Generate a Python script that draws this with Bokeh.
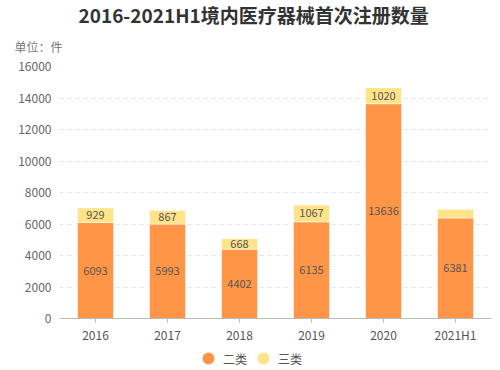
from bokeh.plotting import figure
from bokeh.layouts import column
from bokeh.models import (ColumnDataSource, LabelSet, Title, FixedTicker, Legend, LegendItem)
from bokeh.core.properties import value
from bokeh.embed import file_html
from bokeh.resources import INLINE

years = ["2016", "2017", "2018", "2019", "2020", "2021H1"]
class2 = [6093, 5993, 4402, 6135, 13636, 6381]
class3 = [929, 867, 668, 1067, 1020, 550]
y_ticks = [0, 2000, 4000, 6000, 8000, 10000, 12000, 14000, 16000]

FONT = "Noto Sans CJK SC"
ORANGE = "#FF9647"
YELLOW = "#FFE389"

tops2 = class2
tops3 = [a + b for a, b in zip(class2, class3)]
src = ColumnDataSource(dict(
    x=years,
    b2=[0] * len(years), t2=tops2,
    b3=tops2, t3=tops3,
    m2=[v / 2 for v in class2],
    m3=[a + b / 2 for a, b in zip(class2, class3)],
    l2=[str(v) for v in class2],
    l3=[str(v) if v >= 600 else "" for v in class3],
))

p = figure(x_range=years, y_range=(0, 16000), width=500, height=345,
           output_backend="svg", toolbar_location=None,
           min_border_left=59, min_border_right=9, min_border_top=66, min_border_bottom=25)
p.outline_line_color = None
p.background_fill_color = "white"

r2 = p.vbar(x="x", bottom="b2", top="t2", width=0.5, source=src,
            fill_color=ORANGE, line_color="white", line_alpha=0.5, line_width=1)
r3 = p.vbar(x="x", bottom="b3", top="t3", width=0.5, source=src,
            fill_color=YELLOW, line_color="white", line_alpha=0.5, line_width=1)

for col_y, col_t in (("m2", "l2"), ("m3", "l3")):
    p.add_layout(LabelSet(x="x", y=col_y, text=col_t, source=src,
                          text_align="center", text_baseline="middle",
                          text_font=value(FONT), text_font_size="11px", text_color="#555555"))

# axes
p.yaxis.ticker = FixedTicker(ticks=y_ticks)
p.yaxis.axis_line_color = None
p.yaxis.major_tick_line_color = None
p.yaxis.major_tick_out = 0
p.yaxis.major_tick_in = 0
p.yaxis.minor_tick_line_color = None
p.yaxis.major_label_text_font = FONT
p.yaxis.major_label_text_font_size = "12px"
p.yaxis.major_label_text_color = "#666666"
p.yaxis.major_label_standoff = 8

p.xaxis.axis_line_color = "#bbbbbb"
p.xaxis.major_tick_line_color = "#bbbbbb"
p.xaxis.major_tick_in = 0
p.xaxis.major_tick_out = 4
p.xaxis.major_label_text_font = FONT
p.xaxis.major_label_text_font_size = "12px"
p.xaxis.major_label_text_color = "#555555"
p.xaxis.major_label_standoff = 3

p.xgrid.grid_line_color = None
p.ygrid.grid_line_color = "#e3e3e3"
p.ygrid.grid_line_dash = "4 4"

# main title (outermost) and unit (next to the frame)
p.title.text = "2016-2021H1境内医疗器械首次注册数量"
p.title.align = "left"
p.title.offset = 19
p.title.standoff = -7
p.title.text_font = FONT
p.title.text_font_size = "19px"
p.title.text_font_style = "bold"
p.title.text_color = "#333333"
p.add_layout(Title(text="单位：件", align="left", offset=-45, standoff=23,
                   text_font=FONT, text_font_size="12px", text_font_style="normal",
                   text_color="#777777"), "above")

# legend row as a separate small figure
lg = figure(width=500, height=25, output_backend="svg", toolbar_location=None,
            x_range=(0, 1), y_range=(0, 1), x_axis_location=None, y_axis_location=None,
            min_border=0)
lg.outline_line_color = None
lg.xgrid.visible = False
lg.ygrid.visible = False
d1 = lg.scatter([-5], [-5], marker="circle", size=12, fill_color=ORANGE, line_color=None)
d2 = lg.scatter([-5], [-5], marker="circle", size=12, fill_color=YELLOW, line_color=None)
legend = Legend(items=[LegendItem(label="二类", renderers=[d1]),
                       LegendItem(label="三类", renderers=[d2])],
                orientation="horizontal", location=(134, -3),
                glyph_width=30, glyph_height=30, label_height=12, label_standoff=0,
                spacing=1, padding=0, margin=0, border_line_color=None,
                background_fill_alpha=0, label_text_font=FONT,
                label_text_font_size="12px", label_text_color="#555555")
lg.add_layout(legend, "center")

layout = column(p, lg, spacing=0)
open("out.html", "w").write(file_html(layout, INLINE))
